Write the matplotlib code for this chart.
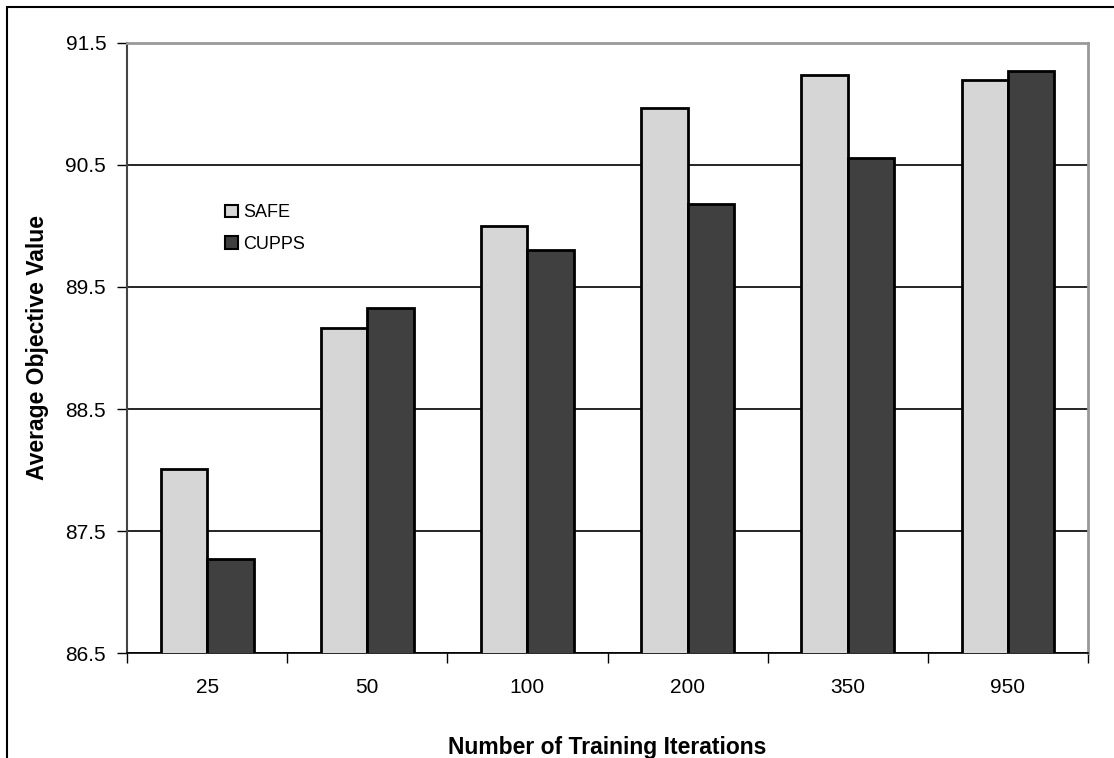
import numpy as np
import matplotlib
matplotlib.use("Agg")
import matplotlib.pyplot as plt
from matplotlib.patches import Rectangle, Patch

# data
iterations = ["25", "50", "100", "200", "350", "950"]
safe = [88.01, 89.16, 90.00, 90.97, 91.24, 91.20]
cupps = [87.27, 89.33, 89.80, 90.18, 90.56, 91.27]
y_ticks = [86.5, 87.5, 88.5, 89.5, 90.5, 91.5]

plt.rcParams['font.family'] = ['Liberation Sans', 'DejaVu Sans']

fig = plt.figure(figsize=(11.14, 7.58), dpi=100)
ax = fig.add_axes([0.114, 0.1385, 0.8627, 0.8048])

# outer frame (only top and left visible in the reference)
fig.patches.append(Rectangle((7 / 1114, -0.1), 1.2, 1 - 7 / 758 + 0.1,
                             transform=fig.transFigure, fill=False,
                             edgecolor='black', linewidth=1.5))

x = np.arange(len(iterations))
w = 0.29
ax.bar(x - w / 2, safe, w, bottom=0, color='#d6d6d6', edgecolor='black',
       linewidth=2, zorder=3, label='SAFE')
ax.bar(x + w / 2, cupps, w, bottom=0, color='#404040', edgecolor='black',
       linewidth=2, zorder=3, label='CUPPS')

ax.set_ylim(86.5, 91.5)
ax.set_xlim(-0.5, len(iterations) - 0.5)
ax.set_yticks(y_ticks)
ax.set_yticklabels([f"{v:.1f}" for v in y_ticks])
ax.yaxis.grid(True, color='black', linewidth=1.2, zorder=0)

# x ticks at category boundaries, labels centred
ax.set_xticks(np.arange(len(iterations) + 1) - 0.5)
ax.set_xticklabels([])
ax.set_xticks(x, minor=True)
ax.set_xticklabels(iterations, minor=True)
ax.tick_params(axis='x', which='minor', length=0, pad=18, labelsize=15)
ax.tick_params(axis='x', which='major', length=7, width=1, direction='out')
ax.tick_params(axis='y', length=7, width=1, direction='out', pad=8, labelsize=15)

ax.spines['top'].set_color('#999999')
ax.spines['right'].set_color('#999999')
ax.spines['top'].set_linewidth(2)
ax.spines['right'].set_linewidth(2)
ax.spines['left'].set_color('#444444')
ax.spines['left'].set_linewidth(1.5)
ax.spines['bottom'].set_linewidth(1.2)

ax.set_xlabel('Number of Training Iterations', fontsize=16.5, fontweight='bold', labelpad=28)
ax.set_ylabel('Average Objective Value', fontsize=16.5, fontweight='bold', labelpad=12)

handles = [Patch(facecolor='#d6d6d6', edgecolor='black', linewidth=1.5),
           Patch(facecolor='#404040', edgecolor='black', linewidth=1.5)]
ax.legend(handles, ['SAFE', 'CUPPS'], loc='upper left',
          bbox_to_anchor=(0.085, 0.762), frameon=False, fontsize=13,
          handlelength=0.7, handleheight=0.7, handletextpad=0.3,
          labelspacing=0.8)

fig.savefig('out.png', dpi=100)
